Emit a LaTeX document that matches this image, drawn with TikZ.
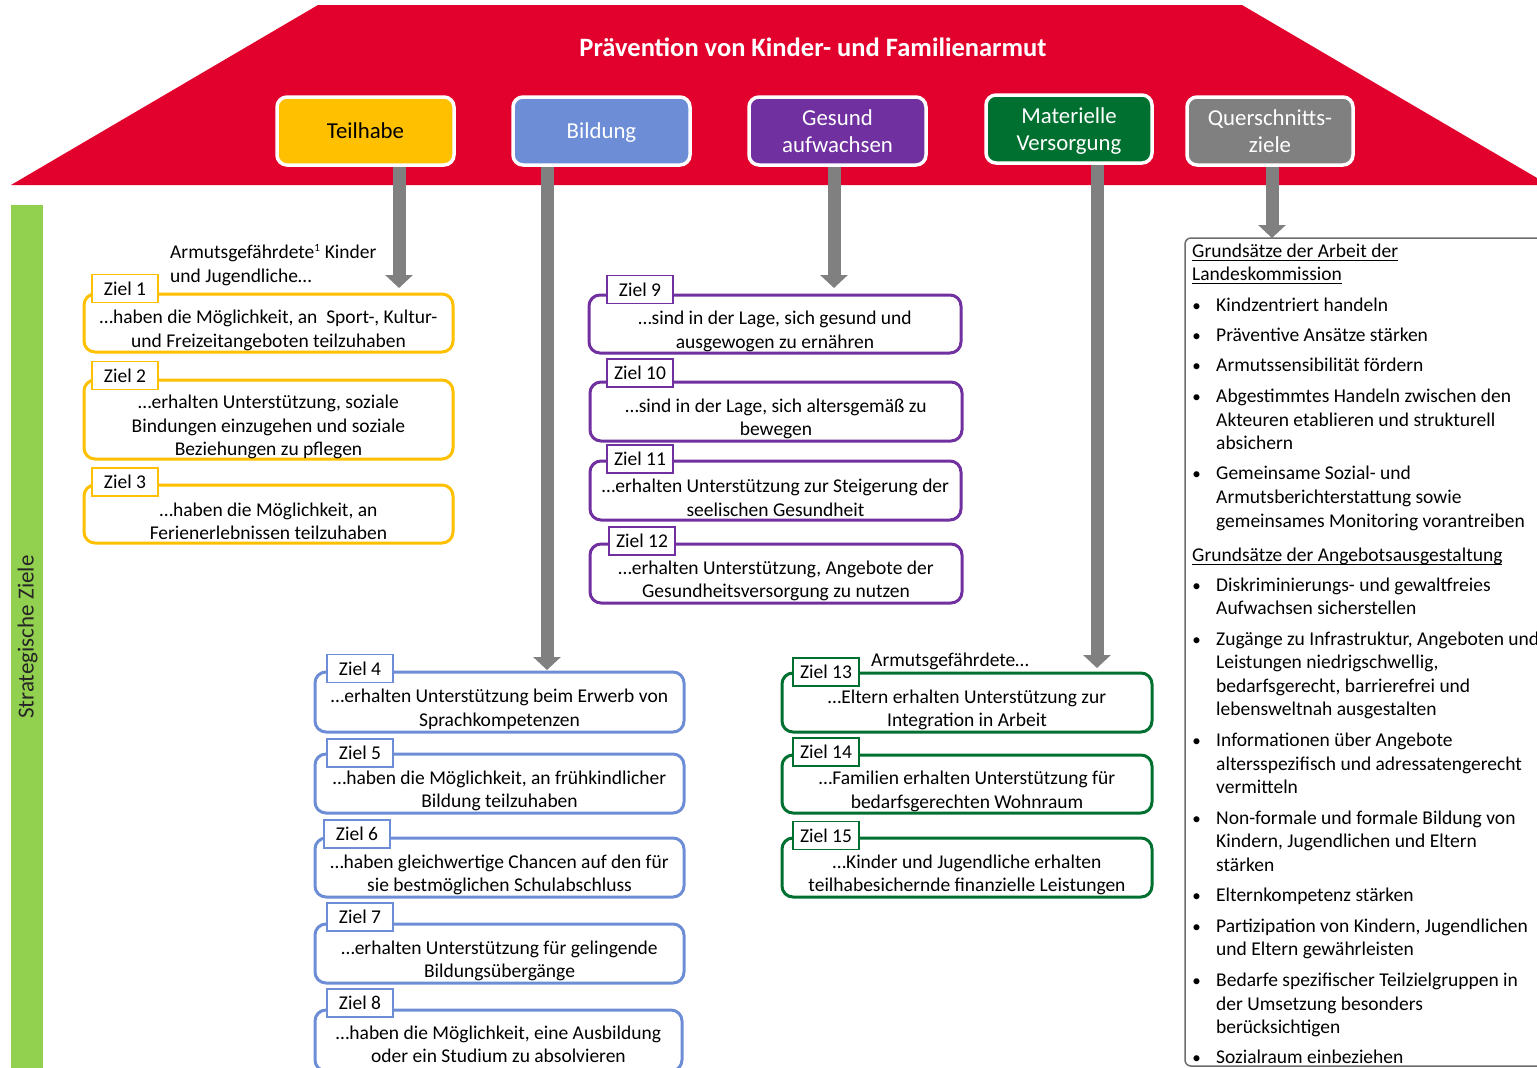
\documentclass[tikz,border=0pt]{standalone}
\usepackage{fontspec}
\setmainfont{Carlito}
\usetikzlibrary{arrows.meta,calc}
\definecolor{roofred}{RGB}{226,0,45}
\definecolor{tyellow}{RGB}{255,192,0}
\definecolor{bblue}{RGB}{109,142,214}
\definecolor{gpurple}{RGB}{112,48,160}
\definecolor{mgreen}{RGB}{0,112,48}
\definecolor{qgray}{RGB}{128,128,128}
\definecolor{bargreen}{RGB}{146,208,80}
\tikzset{
 cat/.style={draw=white, line width=3.5pt, rounded corners=10pt, font=\fontsize{22.8pt}{27pt}\selectfont, align=center, inner sep=0pt, minimum height=68pt},
 zb/.style={line width=3pt, rounded corners=11pt, fill=white, inner sep=0pt},
 zt/.style={font=\fontsize{19.5pt}{23.5pt}\selectfont, align=center, inner sep=0pt},
 zl/.style={line width=1.5pt, fill=white, inner sep=0pt, minimum width=66pt, minimum height=28pt, font=\fontsize{19.5pt}{23.5pt}\selectfont},
 garrow/.style={draw=qgray, line width=13pt, -{Triangle[width=27pt,length=13pt]}},
 rt/.style={font=\fontsize{19.5pt}{23.5pt}\selectfont, anchor=base west, inner sep=0pt},
 bt/.style={font=\fontsize{17pt}{20pt}\selectfont, anchor=base, inner sep=0pt},
}
\newcommand\myul[1]{\setbox0\hbox{#1}\rlap{\rule[-3.5pt]{\wd0}{1.2pt}}\box0}
\newcommand\nodepth[1]{\raisebox{0pt}[\height][0pt]{#1}}
\newcommand\zielbox[7]{%
 \node[zb, draw=#2, minimum width={(#5-#3)*1pt}, minimum height={(#6-#4)*1pt}] (#1) at ({(#3+#5)/2},{(#4+#6)/2}) {};
 \node[zt] (#1t) at ([yshift=-7.5pt]#1.center) {#7};}
\newcommand\zieltab[5]{\node[zl, draw=#2] (#1) at ({#3+33},#4) {Ziel #5};}
\begin{document}
\begin{tikzpicture}[x=1pt,y=-1pt]
\useasboundingbox (0,0) rectangle (1537,1068);
\clip (0,0) rectangle (1537,1068);
\fill[white] (0,0) rectangle (1537,1068);
% roof
\fill[roofred] (11,185) -- (318,5) -- (1242,5) -- (1549,185) -- cycle;
\node[font=\bfseries\fontsize{26.5pt}{30pt}\selectfont, text=white, inner sep=0pt] (title) at (813,47) {Prävention von Kinder- und Familienarmut};
% green bar
\fill[bargreen] (11,205) rectangle (43,1075);
\node[rotate=90, font=\fontsize{23pt}{28pt}\selectfont, text=black!85, inner sep=0pt] (sz) at (27.5,637) {Strategische Ziele};
% arrow end points
\coordinate (a1) at (399,288);
\coordinate (a2) at (547,670);
\coordinate (a3) at (834,288);
\coordinate (a4) at (1097,668);
\coordinate (a5) at (1272,238);
% category boxes (positions)
\path (365.5,131) coordinate (teilc) (601.5,131) coordinate (bildc) (837.5,131) coordinate (gesuc) (1069,129) coordinate (matec) (1270,131) coordinate (querc);
\path (teilc) ++(0,36) coordinate (teilb) (bildc) ++(0,36) coordinate (bildb) (gesuc) ++(0,36) coordinate (gesub) (matec) ++(0,36) coordinate (mateb) (querc) ++(0,36) coordinate (querb);
\draw[garrow] (teilb -| a1) -- (a1);
\draw[garrow] (bildb -| a2) -- (a2);
\draw[garrow] (gesub -| a3) -- (a3);
\draw[garrow] (mateb -| a4) -- (a4);
\draw[garrow] (querb -| a5) -- (a5);
\node[cat, fill=tyellow, minimum width=177pt] (teil) at (teilc) {Teilhabe};
\node[cat, fill=bblue, text=white, minimum width=177pt] (bild) at (bildc) {\nodepth{Bildung}};
\node[cat, fill=gpurple, text=white, minimum width=177pt] (gesu) at (gesuc) {Gesund\\aufwachsen};
\node[cat, fill=mgreen, text=white, minimum width=166pt] (mate) at (matec) {Materielle\\\nodepth{Versorgung}};
\node[cat, fill=qgray, text=white, minimum width=166pt] (quer) at (querc) {Querschnitts-\\ziele};
% Teilhabe goals
\node[zt, align=left, anchor=west] (ann1) at (170,265) {Armutsgefährdete\textsuperscript{\fontsize{11pt}{12pt}\selectfont 1} Kinder\\und Jugendliche…};
\zielbox{z1}{tyellow}{84}{294}{453}{352}{…haben die Möglichkeit, an\ \ Sport-, Kultur-\\und Freizeitangeboten teilzuhaben}
\zieltab{l1}{tyellow}{92}{288.5}{1}
\zielbox{z2}{tyellow}{84}{380}{453}{459}{…erhalten Unterstützung, soziale\\Bindungen einzugehen und soziale\\Beziehungen zu pflegen}
\zieltab{l2}{tyellow}{92}{375.5}{2}
\zielbox{z3}{tyellow}{84}{485}{453}{543}{…haben die Möglichkeit, an\\Ferienerlebnissen teilzuhaben}
\zieltab{l3}{tyellow}{92}{482}{3}
% Bildung goals
\zielbox{z4}{bblue}{315}{672}{684}{732}{…erhalten Unterstützung beim Erwerb von\\Sprachkompetenzen}
\zieltab{l4}{bblue}{327}{668.5}{4}
\zielbox{z5}{bblue}{315}{754}{684}{813}{…haben die Möglichkeit, an frühkindlicher\\Bildung teilzuhaben}
\zieltab{l5}{bblue}{327}{753}{5}
\zielbox{z6}{bblue}{315}{838}{684}{897}{…haben gleichwertige Chancen auf den für\\sie bestmöglichen Schulabschluss}
\zieltab{l6}{bblue}{324}{834}{6}
\zielbox{z7}{bblue}{315}{924}{684}{983}{…erhalten Unterstützung für gelingende\\Bildungsübergänge}
\zieltab{l7}{bblue}{327}{917}{7}
\node[zb, draw=bblue, minimum width=367pt, minimum height=61pt] (z8) at (498.5,1040.5) {};
\node[zt] (z8t) at (498.5,1044.5) {…haben die Möglichkeit, eine Ausbildung\\oder ein Studium zu absolvieren};
\zieltab{l8}{bblue}{327}{1003}{8}
% Gesund goals
\zielbox{z9}{gpurple}{589}{295}{961}{353}{…sind in der Lage, sich gesund und\\ausgewogen zu ernähren}
\zieltab{l9}{gpurple}{607}{289.5}{9}
\zielbox{z10}{gpurple}{590}{382}{962}{441}{…sind in der Lage, sich altersgemäß zu\\bewegen}
\zieltab{l10}{gpurple}{607}{373}{10}
\zielbox{z11}{gpurple}{590}{461}{961}{520}{…erhalten Unterstützung zur Steigerung der\\seelischen Gesundheit}
\zieltab{l11}{gpurple}{607}{459}{11}
\zielbox{z12}{gpurple}{590}{544}{962}{603}{…erhalten Unterstützung, Angebote der\\Gesundheitsversorgung zu nutzen}
\zieltab{l12}{gpurple}{609}{541}{12}
% Materielle goals
\node[zt, anchor=west] (ann2) at (871,661) {Armutsgefährdete…};
\zielbox{z13}{mgreen}{782}{673}{1152}{732}{…Eltern erhalten Unterstützung zur\\Integration in Arbeit}
\zieltab{l13}{mgreen}{793}{672}{13}
\zielbox{z14}{mgreen}{782}{755}{1152}{813}{…Familien erhalten Unterstützung für\\bedarfsgerechten Wohnraum}
\zieltab{l14}{mgreen}{793}{752}{14}
\zielbox{z15}{mgreen}{782}{838}{1152}{897}{…Kinder und Jugendliche erhalten\\teilhabesichernde finanzielle Leistungen}
\zieltab{l15}{mgreen}{793}{835.5}{15}
% Querschnittsziele box
\node[draw=qgray!85!black, line width=1.5pt, rounded corners=6pt, minimum width=390pt, minimum height=828pt, inner sep=0pt] (rbox) at (1380,652) {};
\node[rt] (h1a) at (1192,257.5) {\myul{Grundsätze der Arbeit der}};
\node[rt] (h1b) at (1192,280.5) {\myul{Landeskommission}};
\node[rt] (h2) at (1192,561.5) {\myul{Grundsätze der Angebotsausgestaltung}};
\foreach \y/\t in {305/{Kindzentriert handeln},335/{Präventive Ansätze stärken},365/{Armutssensibilität fördern},
 396/{Abgestimmtes Handeln zwischen den},420/{Akteuren etablieren und strukturell},443/{absichern},
 473/{Gemeinsame Sozial- und},497/{Armutsberichterstattung sowie},521/{gemeinsames Monitoring vorantreiben},
 585/{Diskriminierungs- und gewaltfreies},608/{Aufwachsen sicherstellen},
 639/{Zugänge zu Infrastruktur, Angeboten und},662/{Leistungen niedrigschwellig,},686/{bedarfsgerecht, barrierefrei und},709/{lebensweltnah ausgestalten},
 740/{Informationen über Angebote},764/{altersspezifisch und adressatengerecht},787/{vermitteln},
 818/{Non-formale und formale Bildung von},841/{Kindern, Jugendlichen und Eltern},865/{stärken},
 895/{Elternkompetenz stärken},
 926/{Partizipation von Kindern, Jugendlichen},949/{und Eltern gewährleisten},
 980/{Bedarfe spezifischer Teilzielgruppen in},1004/{der Umsetzung besonders},1027/{berücksichtigen},
 1057/{Sozialraum einbeziehen}}
 {\node[rt] (rl\y) at (1216,{\y+6.5}) {\t};}
\foreach \y in {305,335,365,396,473,585,639,740,818,895,926,980,1057}
 {\node[bt] (bu\y) at (1196.5,{\y+6}) {•};}
\end{tikzpicture}
\end{document}
